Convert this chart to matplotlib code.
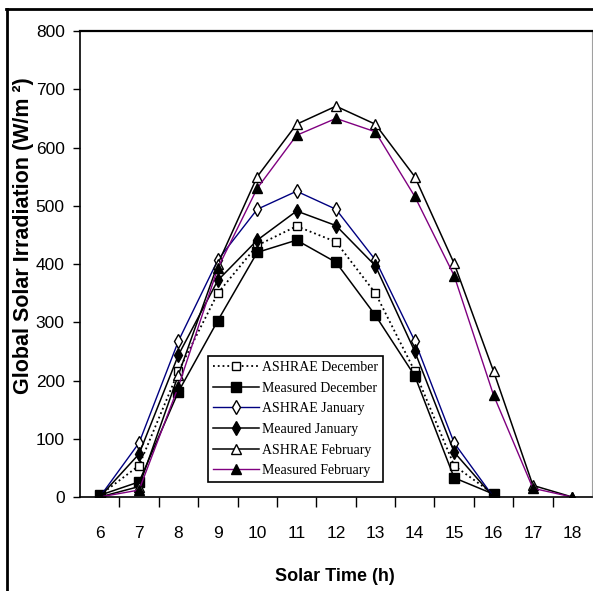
'''Global solar irradiation, ASHRAE model vs measured, Dec-Feb'''
import matplotlib
matplotlib.use('Agg')
import matplotlib.pyplot as plt
from matplotlib.lines import Line2D

hours = [6, 7, 8, 9, 10, 11, 12, 13, 14, 15, 16, 17, 18]
hours_short = [6, 7, 8, 9, 10, 11, 12, 13, 14, 15, 16]

ashrae_dec = [3, 54, 216, 350, 432, 465, 438, 350, 216, 54, 5]
measured_dec = [3, 26, 181, 303, 420, 441, 403, 312, 208, 33, 5]
ashrae_jan = [0, 93, 268, 407, 494, 525, 494, 407, 268, 93, 0]
measured_jan = [0, 74, 244, 372, 441, 491, 466, 397, 250, 77, 0]
ashrae_feb = [0, 18, 210, 400, 550, 640, 671, 640, 550, 401, 216, 20, 0]
measured_feb = [0, 12, 190, 393, 530, 621, 650, 627, 516, 380, 175, 15, 0]

fig = plt.figure(figsize=(5.93, 5.91), dpi=100)
ax = fig.add_axes([0.1349, 0.159, 0.8634, 0.7885])

ms = 6.5
ax.plot(hours_short, ashrae_dec, color='black', linestyle=':', linewidth=1.3,
        marker='s', markersize=ms - 1, markerfacecolor='white', markeredgecolor='black',
        label='ASHRAE December')
ax.plot(hours_short, measured_dec, color='black', linewidth=1.1,
        marker='s', markersize=ms, markerfacecolor='black', markeredgecolor='black',
        label='Measured December')
ax.plot(hours_short, ashrae_jan, color='#000080', linewidth=1.0,
        marker='d', markersize=ms + 1, markerfacecolor='white', markeredgecolor='black',
        label='ASHRAE January')
ax.plot(hours_short, measured_jan, color='black', linewidth=1.1,
        marker='d', markersize=ms + 1, markerfacecolor='black', markeredgecolor='black',
        label='Meaured January')
ax.plot(hours, ashrae_feb, color='black', linewidth=1.1,
        marker='^', markersize=ms + 1, markerfacecolor='white', markeredgecolor='black',
        label='ASHRAE February')
ax.plot(hours, measured_feb, color='#800080', linewidth=1.0,
        marker='^', markersize=ms + 1, markerfacecolor='black', markeredgecolor='black',
        label='Measured February')

ax.set_xlim(5.5, 18.5)
ax.set_ylim(0, 800)
ax.set_yticks(range(0, 801, 100))

# ticks between categories, labels on the categories
ax.set_xticks([h + 0.5 for h in hours[:-1]])
ax.set_xticklabels([])
ax.set_xticks(hours, minor=True)
ax.set_xticklabels([str(h) for h in hours], minor=True)
ax.tick_params(axis='x', which='major', direction='out', length=7, width=1)
ax.tick_params(axis='x', which='minor', length=0, pad=21, labelsize=12.5)
ax.tick_params(axis='y', direction='out', length=5, width=1, pad=6, labelsize=12.5)
for lab in ax.get_xticklabels(minor=True) + ax.get_yticklabels():
    lab.set_family('Liberation Sans')

ax.spines['left'].set_linewidth(1.2)
ax.spines['bottom'].set_linewidth(1.2)
ax.spines['top'].set_linewidth(1.6)
ax.spines['right'].set_color('#a0a0a0')

ax.set_xlabel('Solar Time (h)', fontsize=13, fontweight='bold', family='Liberation Sans')
ax.set_ylabel('Global Solar Irradiation (W/m \u00b2)', fontsize=15.5, fontweight='bold',
              family='Liberation Sans')
ax.xaxis.set_label_coords(0.498, -0.152)
ax.yaxis.set_label_coords(-0.09, 0.56)

leg = ax.legend(loc='lower left', bbox_to_anchor=(0.25, 0.032), borderaxespad=0,
                frameon=True, fancybox=False, edgecolor='black', framealpha=1,
                prop={'family': 'Liberation Serif', 'size': 10},
                handlelength=3.3, handletextpad=0.25, labelspacing=0.55, borderpad=0.35)
leg.get_frame().set_linewidth(1.2)

# outer border lines of the original figure
fig.add_artist(Line2D([6 / 593, 1], [1 - 9 / 591, 1 - 9 / 591], color='black', linewidth=2))
fig.add_artist(Line2D([7 / 593, 7 / 593], [0, 1 - 9 / 591], color='black', linewidth=2))

fig.savefig('out.png', dpi=100)
